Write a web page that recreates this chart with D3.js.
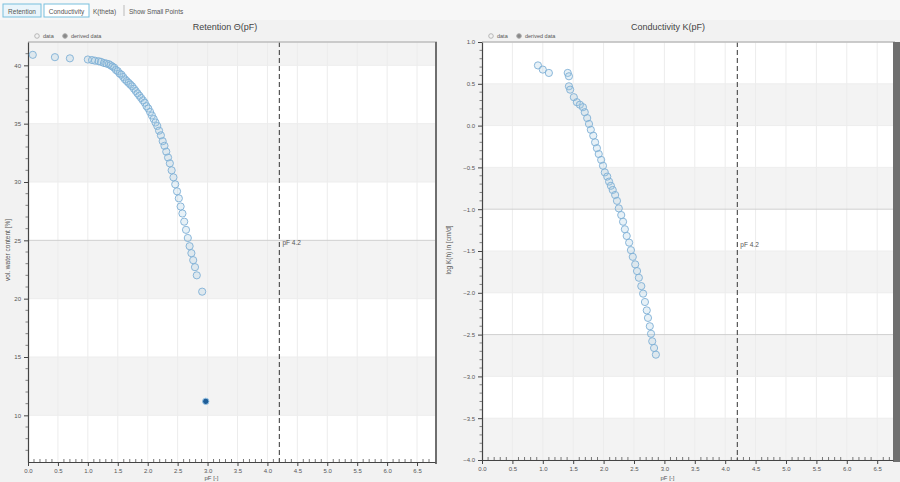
<!DOCTYPE html>
<html><head><meta charset="utf-8">
<script src="https://cdn.jsdelivr.net/npm/d3@7"></script>
<style>
body{margin:0;background:#f2f2f2;font-family:"Liberation Sans",Arial,sans-serif;}
svg{display:block;}
</style></head>
<body>
<svg id="c" width="900" height="482"></svg>
<script>
// ---------- data ----------
const toolbarButtons = ["Retention", "Conductivity", "K(theta)", "Show Small Points"];
const pfTicks = [0.0,0.5,1.0,1.5,2.0,2.5,3.0,3.5,4.0,4.5,5.0,5.5,6.0,6.5];
const retTicks = [10,15,20,25,30,35,40];
const condTicks = [1.0,0.5,0.0,-0.5,-1.0,-1.5,-2.0,-2.5,-3.0,-3.5,-4.0];
const pfLimit = 4.2;

const retPF = [0.08,0.45,0.70,1.00,1.07,1.12,1.18,1.22,1.27,1.31,1.35,1.38,1.41,1.44,1.47,1.50,1.53,1.56,1.59,1.62,1.65,1.68,1.71,1.74,1.77,1.80,1.83,1.86,1.89,1.92,1.95,1.98,2.01,2.04,2.07,2.10,2.13,2.16,2.19,2.22,2.25,2.28,2.31,2.34,2.37,2.40,2.43,2.46,2.49,2.52,2.55,2.58,2.61,2.64,2.67,2.70,2.73,2.76,2.79,2.82,2.91];
const retTheta = [40.9,40.7,40.6,40.5,40.45,40.4,40.35,40.3,40.2,40.15,40.1,40.0,39.9,39.8,39.6,39.5,39.3,39.2,39.0,38.8,38.65,38.5,38.35,38.2,38.0,37.8,37.6,37.4,37.2,37.0,36.8,36.5,36.3,36.0,35.7,35.4,35.1,34.8,34.4,34.0,33.5,33.1,32.6,32.1,31.6,31.0,30.4,29.8,29.2,28.6,27.9,27.3,26.6,25.9,25.2,24.5,23.9,23.3,22.7,22.0,20.6];
const retDerivedPF = [2.97];
const retDerivedTheta = [11.2];

const condPF = [0.92,1.00,1.10,1.41,1.43,1.43,1.45,1.51,1.56,1.61,1.66,1.69,1.73,1.76,1.79,1.83,1.86,1.89,1.92,1.96,1.99,2.02,2.06,2.09,2.12,2.15,2.19,2.22,2.25,2.29,2.32,2.35,2.38,2.42,2.45,2.48,2.52,2.55,2.58,2.62,2.65,2.68,2.71,2.73,2.76,2.78,2.80,2.83,2.86];
const condLogK = [0.72,0.67,0.63,0.63,0.59,0.47,0.43,0.34,0.28,0.25,0.22,0.16,0.09,0.02,-0.05,-0.12,-0.20,-0.27,-0.34,-0.41,-0.48,-0.56,-0.61,-0.67,-0.72,-0.77,-0.83,-0.90,-0.99,-1.07,-1.15,-1.24,-1.32,-1.40,-1.49,-1.57,-1.66,-1.74,-1.82,-1.92,-2.01,-2.11,-2.21,-2.30,-2.40,-2.49,-2.58,-2.66,-2.74];

// ---------- drawing ----------
const svg = d3.select("#c");
const font = "Liberation Sans, Arial, sans-serif";

// toolbar
const tb = svg.append("g");
tb.append("rect").attr("x",0).attr("y",0).attr("width",900).attr("height",20).attr("fill","#f7f7f7");
const btnX = [3, 44, 93, 129];
const btnW = [38, 45, 28, 62];
toolbarButtons.forEach((t,i)=>{
  if(i<2){
    tb.append("rect").attr("x",btnX[i]).attr("y",4).attr("width",btnW[i]).attr("height",13)
      .attr("fill",i===0?"#eaf5fb":"#ffffff").attr("stroke","#79c0de").attr("stroke-width",1);
  }
  tb.append("text").attr("x",btnX[i]+ (i<2?btnW[i]/2:0)).attr("y",13.5)
    .attr("text-anchor",i<2?"middle":"start").attr("font-size",6.5).attr("fill","#555").attr("font-family",font).text(t);
});
tb.append("line").attr("x1",124).attr("x2",124).attr("y1",5).attr("y2",16).attr("stroke","#bbb");

function drawChart(opt){
  const g = svg.append("g");
  const x = d3.scaleLinear().domain(opt.xDomain).range([opt.left, opt.right]);
  const y = d3.scaleLinear().domain(opt.yDomain).range([opt.bottom, opt.top]);
  // plot bg
  g.append("rect").attr("x",opt.left).attr("y",opt.top).attr("width",opt.right-opt.left).attr("height",opt.bottom-opt.top).attr("fill","#ffffff");
  // bands
  opt.bands.forEach(b=>{
    const y0 = y(Math.min(b[1],opt.yDomain[1])), y1 = y(Math.max(b[0],opt.yDomain[0]));
    g.append("rect").attr("x",opt.left).attr("y",y0).attr("width",opt.right-opt.left).attr("height",y1-y0).attr("fill","#f3f3f3");
  });
  // vertical grid
  g.selectAll(".vg").data(pfTicks.filter(d=>d>0)).join("line")
    .attr("x1",d=>x(d)).attr("x2",d=>x(d)).attr("y1",opt.top).attr("y2",opt.bottom)
    .attr("stroke","#ececec").attr("stroke-width",1);
  // horizontal grid
  g.selectAll(".hg").data(opt.yTicks).join("line")
    .attr("x1",opt.left).attr("x2",opt.right).attr("y1",d=>y(d)).attr("y2",d=>y(d))
    .attr("stroke",d=>opt.darkLines.includes(d)?"#cfcfcf":"#ededed").attr("stroke-width",1);
  // pF 4.2 line
  g.append("line").attr("x1",x(pfLimit)).attr("x2",x(pfLimit)).attr("y1",opt.top).attr("y2",opt.bottom)
    .attr("stroke","#555").attr("stroke-width",1.2).attr("stroke-dasharray","5,3");
  g.append("text").attr("x",x(pfLimit)+3).attr("y",opt.limitLabelY).attr("font-size",6.5).attr("fill","#555").attr("font-family",font).text("pF 4.2");

  // top frame line
  g.append("line").attr("x1",opt.left).attr("x2",opt.right+2).attr("y1",opt.top).attr("y2",opt.top).attr("stroke","#bdbdbd").attr("stroke-width",1.5);
  // right border
  g.append("rect").attr("x",opt.right).attr("y",opt.top).attr("width",opt.rightBorderW).attr("height",opt.bottom-opt.top+2).attr("fill","#6f6f6f");

  // axes
  const xAxis = d3.axisBottom(x).tickValues(pfTicks).tickFormat(d3.format(".1f")).tickSize(4).tickSizeOuter(0);
  const xa = g.append("g").attr("transform",`translate(0,${opt.bottom})`).call(xAxis);
  const minorX = d3.range(1, Math.round(opt.xDomain[1]*10)).map(i=>i/10).filter(v=>Math.abs(v*2-Math.round(v*2))>1e-6);
  g.selectAll(".mx").data(minorX).join("line")
    .attr("x1",d=>x(d)).attr("x2",d=>x(d)).attr("y1",opt.bottom).attr("y2",opt.bottom-3)
    .attr("stroke","#555").attr("stroke-width",0.8);
  const yAxis = d3.axisLeft(y).tickValues(opt.yTicks).tickFormat(d3.format(opt.yFmt)).tickSize(4).tickSizeOuter(0);
  const ya = g.append("g").attr("transform",`translate(${opt.left},0)`).call(yAxis);
  g.selectAll(".my").data(opt.yMinor).join("line")
    .attr("x1",opt.left).attr("x2",opt.left-2.5).attr("y1",d=>y(d)).attr("y2",d=>y(d))
    .attr("stroke","#666").attr("stroke-width",0.8);
  [xa,ya].forEach(a=>{
    a.selectAll("path").attr("stroke","#444").attr("stroke-width",1.2);
    a.selectAll("line").attr("stroke","#444");
    a.selectAll("text").attr("font-size",6).attr("fill","#555").attr("font-family",font);
  });
  // titles
  g.append("text").attr("x",opt.titleX).attr("y",30).attr("text-anchor","middle").attr("font-size",9).attr("fill","#444").attr("font-family",font).text(opt.title);
  g.append("text").attr("x",(opt.left+opt.right)/2 - 20).attr("y",480).attr("text-anchor","middle").attr("font-size",6).attr("fill","#555").attr("font-family",font).text("pF [-]");
  g.append("text").attr("transform",`translate(${opt.yTitleX},250) rotate(-90)`).attr("text-anchor","middle").attr("font-size",6.5).attr("fill","#555").attr("font-family",font).text(opt.yTitle);
  // legend
  const lg = g.append("g").attr("transform",`translate(${opt.left+9},36)`);
  lg.append("circle").attr("cx",0).attr("cy",0).attr("r",2.3).attr("fill","none").attr("stroke","#aaa").attr("stroke-width",0.8);
  lg.append("text").attr("x",6).attr("y",2.2).attr("font-size",5.5).attr("fill","#555").attr("font-family",font).text("data");
  lg.append("circle").attr("cx",28).attr("cy",0).attr("r",2.3).attr("fill","#888").attr("stroke","#aaa");
  lg.append("text").attr("x",34).attr("y",2.2).attr("font-size",5.5).attr("fill","#555").attr("font-family",font).text("derived data");

  // points
  const pts = d3.zip(opt.px, opt.py);
  g.append("g").selectAll("circle").data(pts).join("circle")
    .attr("cx",d=>x(d[0])).attr("cy",d=>y(d[1])).attr("r",3.6)
    .attr("fill","rgba(160,198,225,0.25)").attr("stroke","#7fb0d6").attr("stroke-width",0.9);
  if(opt.dx){
    g.append("g").selectAll("circle").data(d3.zip(opt.dx, opt.dy)).join("circle")
      .attr("cx",d=>x(d[0])).attr("cy",d=>y(d[1])).attr("r",3.2)
      .attr("fill","#1f5e98").attr("stroke","#9cc6e6").attr("stroke-width",1);
  }
}

drawChart({
  left:28, right:435, top:42, bottom:462,
  xDomain:[0,6.8], yDomain:[6,42],
  yTicks:retTicks, yFmt:"d", yMinor:d3.range(7,42).filter(v=>v%5!==0),
  bands:[[40,42],[30,35],[20,25],[10,15]], darkLines:[25],
  title:"Retention Θ(pF)", titleX:225, yTitle:"vol. water content [%]", yTitleX:10,
  limitLabelY:245, rightBorderW:2,
  px:retPF, py:retTheta, dx:retDerivedPF, dy:retDerivedTheta
});
drawChart({
  left:482, right:893, top:42, bottom:460,
  xDomain:[0,6.76], yDomain:[-4,1],
  yTicks:condTicks, yFmt:".1f", yMinor:d3.range(-39,10).map(v=>v/10).filter(v=>Math.abs(v*2-Math.round(v*2))>1e-6),
  bands:[[0,0.5],[-1,-0.5],[-2,-1.5],[-3,-2.5],[-4,-3.5]], darkLines:[-1.0,-2.5],
  title:"Conductivity K(pF)", titleX:668, yTitle:"log K(h) in [cm/d]", yTitleX:451,
  limitLabelY:247, rightBorderW:7,
  px:condPF, py:condLogK
});
</script>
</body></html>
